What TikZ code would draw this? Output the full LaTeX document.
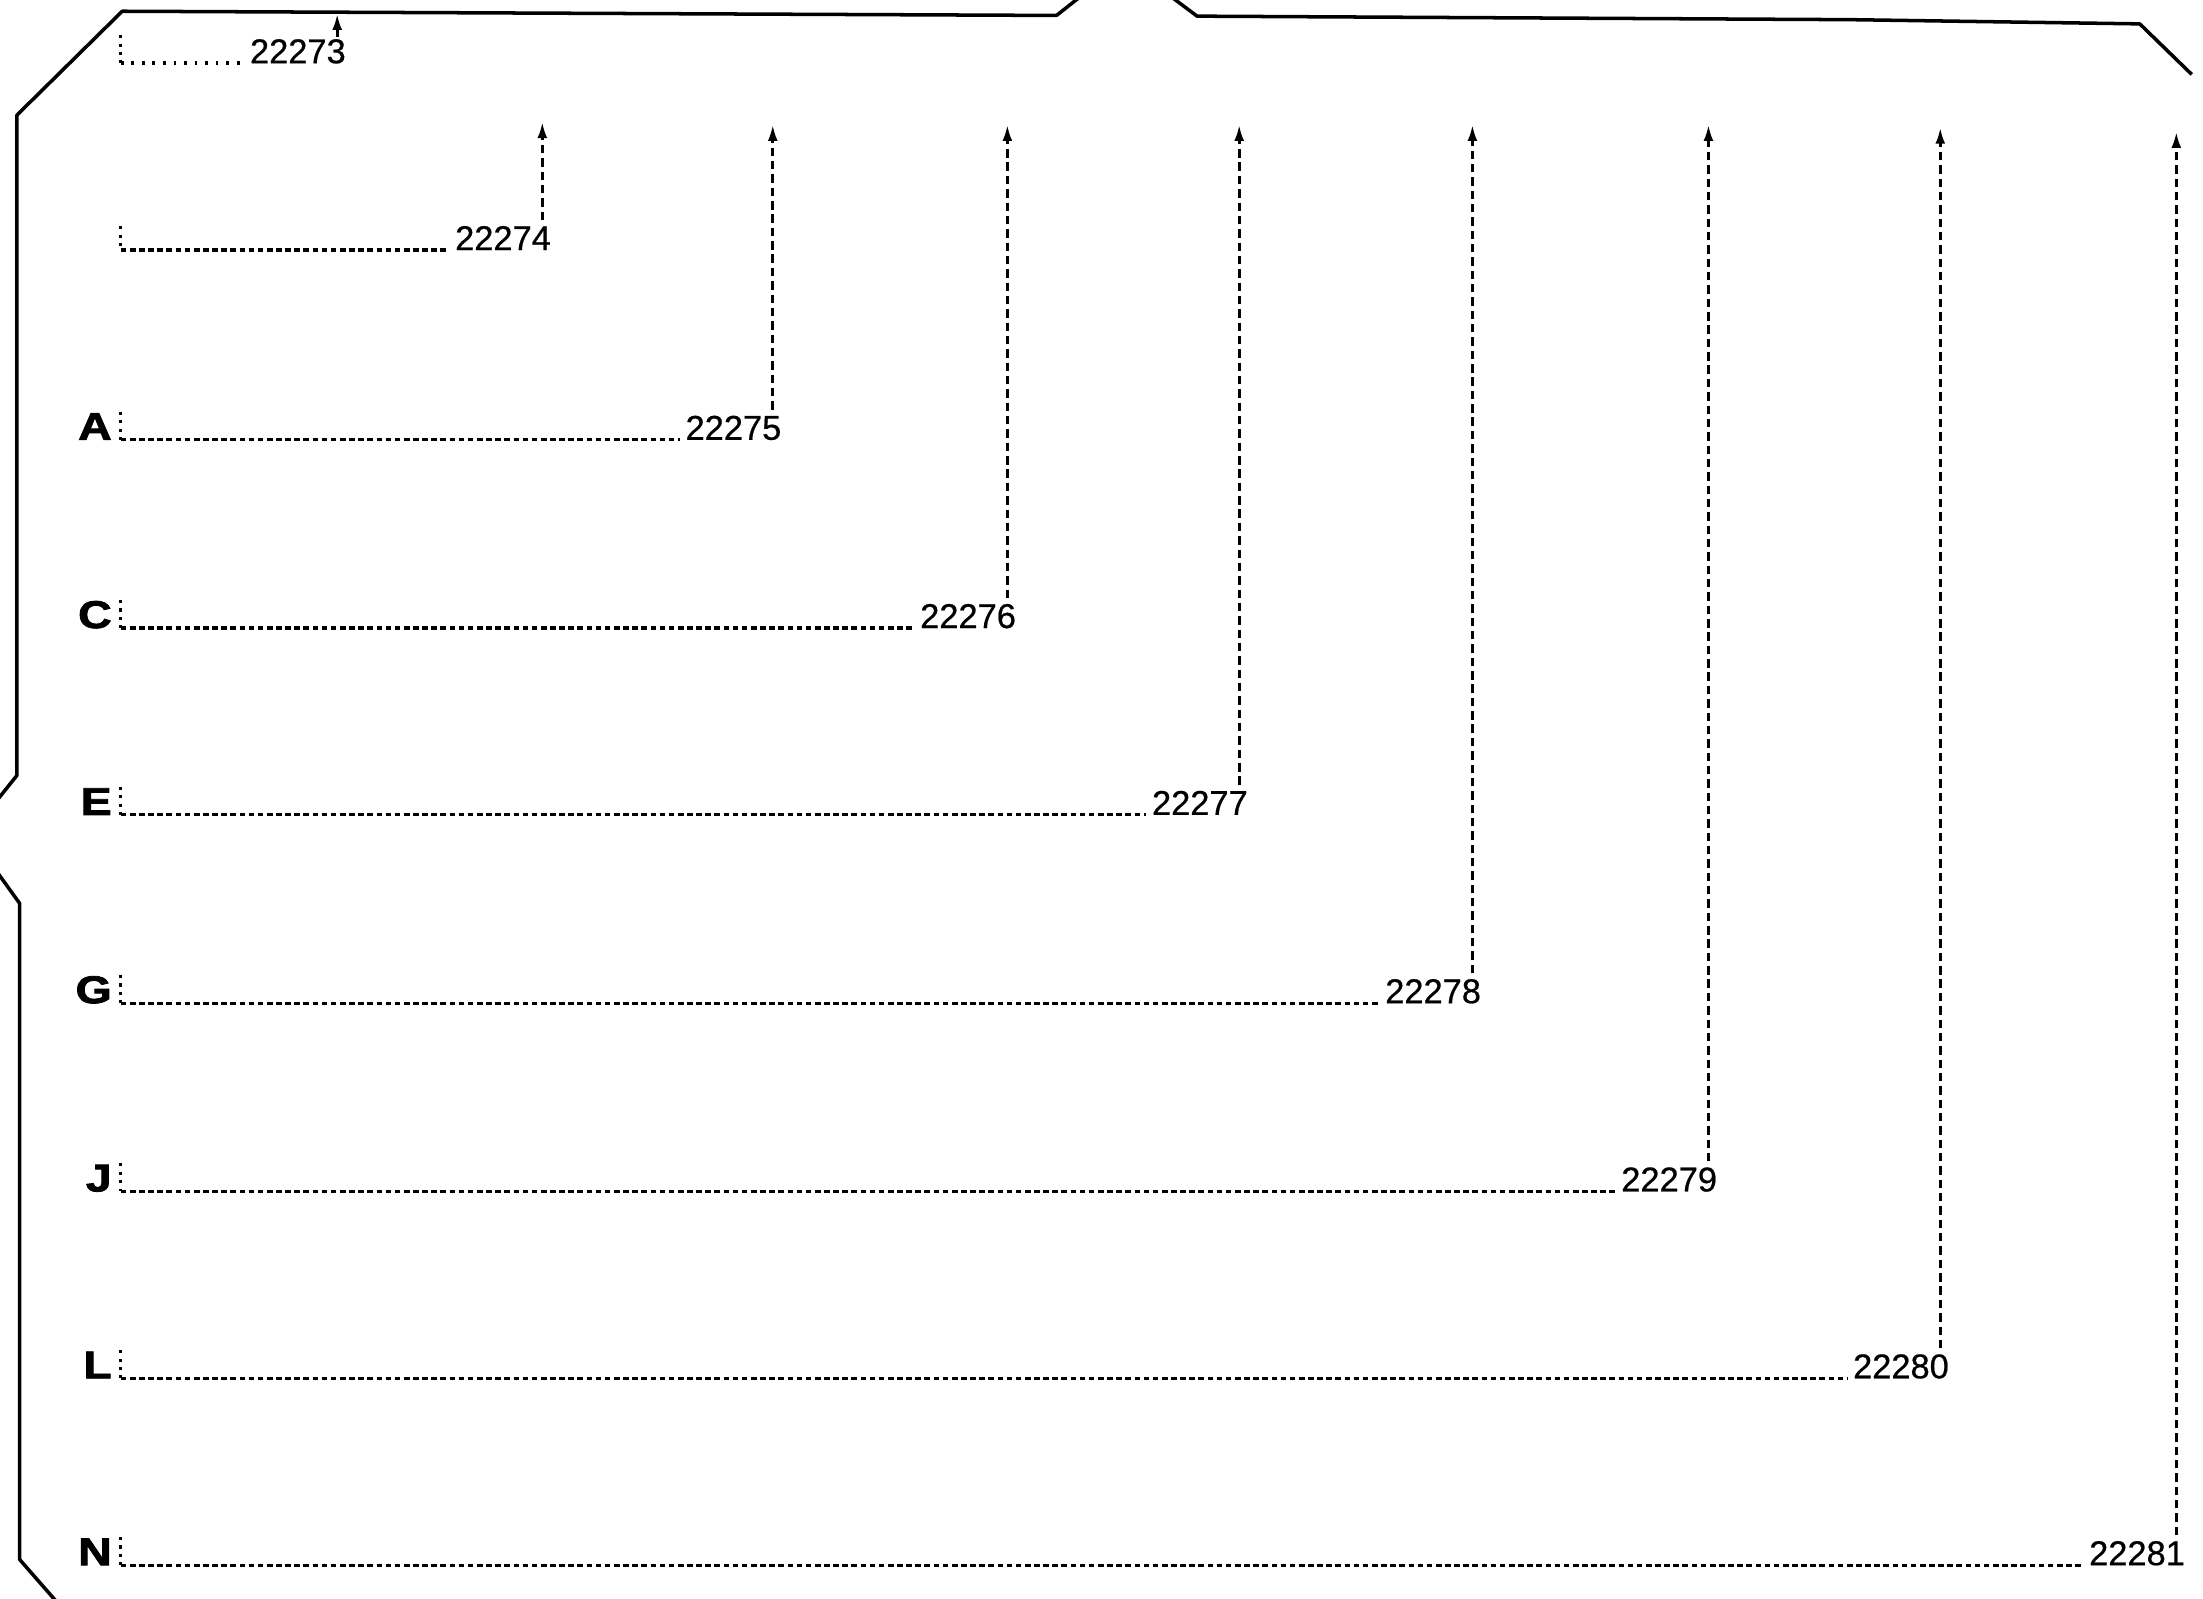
\documentclass[tikz,border=0pt]{standalone}
\usepackage{fontspec}
\usetikzlibrary{arrows.meta}
\newfontfamily\numfont[FakeBold=0.6]{Liberation Sans}
\newfontfamily\letfont[BoldFeatures={FakeBold=2}]{Liberation Sans}
\begin{document}
\begin{tikzpicture}[x=0.4pt,y=-0.4pt,
  frame/.style={line width=1pt, line join=round},
  hline/.style={line width=0.9pt, dash pattern=on 1.6pt off 1.0pt},
  dotline/.style={line width=1pt, dash pattern=on 0.8pt off 2.2pt},
  tickline/.style={line width=0.9pt, dash pattern=on 0.9pt off 1.5pt},
  vline/.style={line width=0.75pt, dash pattern=on 2.4pt off 1.4pt, shorten <=1.5pt, -{Latex[length=4.5pt,width=2.8pt]}},
  num/.style={inner sep=0pt, font=\numfont\fontsize{9.8}{11}\selectfont, anchor=base east},
  letter/.style={inner sep=0pt, font=\letfont\fontsize{11}{12}\selectfont\bfseries, anchor=base east}
]
\useasboundingbox (0,0) rectangle (1568,1138);
\fill[white] (0,0) rectangle (1568,1138);
\begin{scope}
\clip (0,0) rectangle (1568,1138);
% outline of the sheet
\draw[frame] (1560,53) -- (1523,17) -- (1317,14) -- (852,11.5) -- (826,-8) -- (776,-8) -- (752,11) -- (87,8) -- (12,82) -- (12,552) -- (-4,572);
\draw[frame] (-4,618) -- (14,643) -- (14,1110) -- (42,1142);
\end{scope}

% row 22273
\node[num] (n73) at (246.6,45) {22273};
\coordinate (t73) at (86,25);
\coordinate (a73) at (240,10);
\draw[tickline] (t73) -- (t73 |- n73.base);
\draw[dotline] (t73 |- n73.base) -- ([xshift=-1.5pt]n73.base west);
\draw[vline, shorten <=0.5pt] (a73 |- n73.north) -- (a73);

% row 22274
\node[num] (n74) at (392.6,178) {22274};
\coordinate (t74) at (86,161);
\coordinate (a74) at (386,87);
\draw[tickline] (t74) -- (t74 |- n74.base);
\draw[hline] (t74 |- n74.base) -- ([xshift=-1.5pt]n74.base west);
\draw[vline] (a74 |- n74.north) -- (a74);

% lettered rows
\foreach \n/\L/\ax/\ly/\ty in {75/A/550/313/89, 76/C/717/447/89, 77/E/882/580/89, 78/G/1048/714/89, 79/J/1216/848/89, 80/L/1381/981/91, 81/N/1549/1114/94} {
  \node[num] (n\n) at (\ax+6.6,\ly) {222\n};
  \node[letter] (l\n) at (80,\ly) {\scalebox{1.2}[1]{\L}};
  \coordinate (t\n) at (86,\ly-20);
  \coordinate (a\n) at (\ax,\ty);
  \draw[tickline] (t\n) -- (t\n |- n\n.base);
  \draw[hline] (t\n |- n\n.base) -- ([xshift=-1.5pt]n\n.base west);
  \draw[vline] (a\n |- n\n.north) -- (a\n);
}
\end{tikzpicture}
\end{document}
